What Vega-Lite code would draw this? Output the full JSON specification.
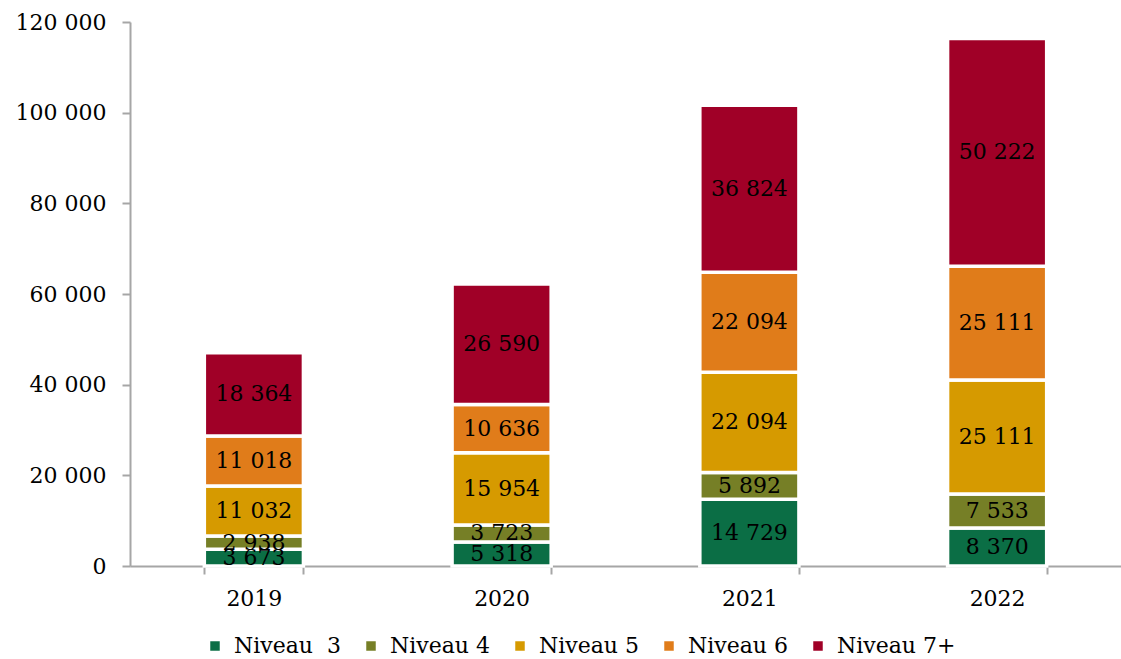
{
  "$schema": "https://vega.github.io/schema/vega-lite/v6.json",
  "width": 991,
  "height": 544,
  "autosize": "none",
  "padding": {"left": 130, "top": 22, "right": 0, "bottom": 93},
  "background": "white",
  "config": {
    "view": {"stroke": null},
    "locale": {"number": {"decimal": ",", "thousands": "\u00a0", "grouping": [3], "currency": ["", "\u00a0€"]}}
  },
  "data": {
    "values": [
      {"annee": "2019", "niveau": "Niveau\u00a0 3", "rang": 1, "valeur": 3673},
      {"annee": "2019", "niveau": "Niveau 4", "rang": 2, "valeur": 2938},
      {"annee": "2019", "niveau": "Niveau 5", "rang": 3, "valeur": 11032},
      {"annee": "2019", "niveau": "Niveau 6", "rang": 4, "valeur": 11018},
      {"annee": "2019", "niveau": "Niveau 7+", "rang": 5, "valeur": 18364},
      {"annee": "2020", "niveau": "Niveau\u00a0 3", "rang": 1, "valeur": 5318},
      {"annee": "2020", "niveau": "Niveau 4", "rang": 2, "valeur": 3723},
      {"annee": "2020", "niveau": "Niveau 5", "rang": 3, "valeur": 15954},
      {"annee": "2020", "niveau": "Niveau 6", "rang": 4, "valeur": 10636},
      {"annee": "2020", "niveau": "Niveau 7+", "rang": 5, "valeur": 26590},
      {"annee": "2021", "niveau": "Niveau\u00a0 3", "rang": 1, "valeur": 14729},
      {"annee": "2021", "niveau": "Niveau 4", "rang": 2, "valeur": 5892},
      {"annee": "2021", "niveau": "Niveau 5", "rang": 3, "valeur": 22094},
      {"annee": "2021", "niveau": "Niveau 6", "rang": 4, "valeur": 22094},
      {"annee": "2021", "niveau": "Niveau 7+", "rang": 5, "valeur": 36824},
      {"annee": "2022", "niveau": "Niveau\u00a0 3", "rang": 1, "valeur": 8370},
      {"annee": "2022", "niveau": "Niveau 4", "rang": 2, "valeur": 7533},
      {"annee": "2022", "niveau": "Niveau 5", "rang": 3, "valeur": 25111},
      {"annee": "2022", "niveau": "Niveau 6", "rang": 4, "valeur": 25111},
      {"annee": "2022", "niveau": "Niveau 7+", "rang": 5, "valeur": 50222}
    ]
  },
  "transform": [
    {"stack": "valeur", "groupby": ["annee"], "sort": [{"field": "rang", "order": "ascending"}], "as": ["y0", "y1"]},
    {"calculate": "(datum.y0 + datum.y1) / 2", "as": "ymid"}
  ],
  "encoding": {
    "x": {
      "field": "annee",
      "type": "nominal",
      "scale": {"paddingInner": 0.6, "paddingOuter": 0.3},
      "axis": {
        "title": null,
        "labelAngle": 0,
        "labelFont": "DejaVu Serif",
        "labelFontSize": 22,
        "labelColor": "#000000",
        "labelPadding": 14,
        "tickBand": "extent",
        "tickSize": 8,
        "tickColor": "#a6a6a6",
        "tickWidth": 2,
        "domainColor": "#a6a6a6",
        "domainWidth": 2
      }
    }
  },
  "layer": [
    {
      "mark": {"type": "bar", "stroke": "white", "strokeWidth": 3.5},
      "encoding": {
        "y": {
          "field": "y0",
          "type": "quantitative",
          "scale": {"domain": [0, 120000], "nice": false},
          "axis": {
            "title": null,
            "values": [0, 20000, 40000, 60000, 80000, 100000, 120000],
            "format": ",d",
            "grid": false,
            "labelFont": "DejaVu Serif",
            "labelFontSize": 22,
            "labelColor": "#000000",
            "labelPadding": 16,
            "tickSize": 8,
            "tickColor": "#a6a6a6",
            "tickWidth": 2,
            "domainColor": "#a6a6a6",
            "domainWidth": 2
          }
        },
        "y2": {"field": "y1"},
        "color": {
          "field": "niveau",
          "type": "nominal",
          "scale": {
            "domain": ["Niveau\u00a0 3", "Niveau 4", "Niveau 5", "Niveau 6", "Niveau 7+"],
            "range": ["#0b6e45", "#767f26", "#d69a00", "#e07c1a", "#a00027"]
          },
          "legend": {
            "title": null,
            "orient": "none",
            "direction": "horizontal",
            "legendX": 74,
            "legendY": 613,
            "symbolType": "square",
            "symbolSize": 90,
            "symbolStrokeWidth": 0,
            "labelFont": "DejaVu Serif",
            "labelFontSize": 22,
            "labelColor": "#000000",
            "labelOffset": 8,
            "columnPadding": 18,
            "labelLimit": 200
          }
        }
      }
    },
    {
      "mark": {"type": "text", "font": "DejaVu Serif", "fontSize": 22, "color": "#000000", "baseline": "middle", "align": "center"},
      "encoding": {
        "y": {"field": "ymid", "type": "quantitative"},
        "text": {"field": "valeur", "type": "quantitative", "format": ",d"}
      }
    }
  ]
}
